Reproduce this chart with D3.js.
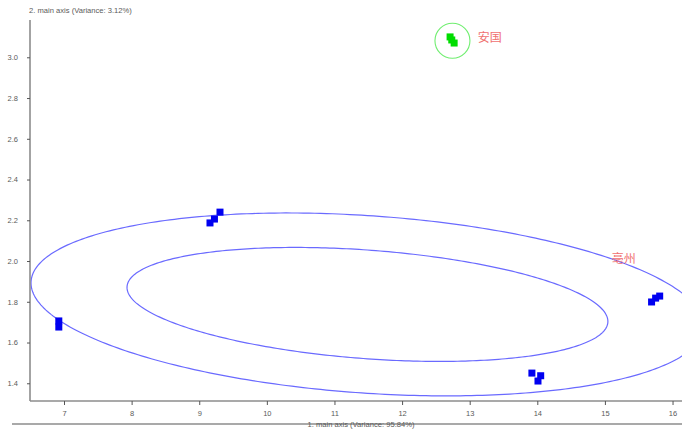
<!DOCTYPE html>
<html><head><meta charset="utf-8">
<script src="https://cdn.jsdelivr.net/npm/d3@7"></script>
<style>
html,body{margin:0;padding:0;background:#fff;}
svg{display:block;font-family:"Liberation Sans",Arial,sans-serif;}
</style></head>
<body><svg id="c" width="682" height="429"></svg>
<script>
// ---- data ----
const xTicks = [7, 8, 9, 10, 11, 12, 13, 14, 15, 16];
const yTicks = [1.4, 1.6, 1.8, 2.0, 2.2, 2.4, 2.6, 2.8, 3.0];
const yTickLabels = ["1.4", "1.6", "1.8", "2.0", "2.2", "2.4", "2.6", "2.8", "3.0"];
const xTitle = "1. main axis (Variance: 95.84%)";
const yTitle = "2. main axis (Variance: 3.12%)";
// blue samples (亳州 group)
const blueX = [6.923, 6.923, 9.159, 9.225, 9.307, 13.92, 14.05, 14.01, 15.69, 15.75, 15.81];
const blueY = [1.706, 1.676, 2.187, 2.206, 2.240, 1.450, 1.437, 1.411, 1.799, 1.818, 1.828];
// green samples (安国 group)
const greenX = [12.71, 12.735, 12.77];
const greenY = [3.10, 3.085, 3.07];
const greenCenter = [12.745, 3.081];
// group labels
const labelText = ["安国", "亳州"];
const labelX = [13.12, 15.10];
const labelY = [3.075, 1.99];
// confidence ellipses: center + cos(t)*A + sin(t)*B (data units)
const ellCenter = [11.488, 1.787];
const ellA = [[3.556, -0.0834], [4.976, -0.1055]];
const ellB = [[0, -0.267], [0, -0.4363]];

// ---- chart ----
const svg = d3.select("#c");
const x = d3.scaleLinear().domain([6.497, 16.14]).range([30, 682]);
const y = d3.scaleLinear().domain([1.313, 3.183]).range([401, 20]);

const axisCol = "#8c8c8c";
const textCol = "#5a5a5a";

// ellipses
ellA.forEach((A, i) => {
  const B = ellB[i];
  const pts = d3.range(0, 361).map(d => {
    const t = d * Math.PI / 180;
    return [x(ellCenter[0] + Math.cos(t) * A[0] + Math.sin(t) * B[0]),
            y(ellCenter[1] + Math.cos(t) * A[1] + Math.sin(t) * B[1])];
  });
  svg.append("path").attr("d", d3.line()(pts)).attr("fill", "none")
    .attr("stroke", "#6a6aff").attr("stroke-width", 1.2);
});

// green circle
svg.append("circle").attr("cx", x(greenCenter[0])).attr("cy", y(greenCenter[1]))
  .attr("r", 17.5).attr("fill", "none").attr("stroke", "#70ee70").attr("stroke-width", 1.1);

// axes
const xAxis = d3.axisBottom(x).tickValues(xTicks).tickSize(4).tickPadding(6).tickFormat(d3.format("d"));
const gx = svg.append("g").attr("transform", "translate(0,401)").call(xAxis);
const yAxis = d3.axisLeft(y).tickValues(yTicks).tickSize(3).tickPadding(9).tickFormat((d, i) => yTickLabels[i]);
const gy = svg.append("g").attr("transform", "translate(30,0)").call(yAxis);
[gx, gy].forEach(g => {
  g.select(".domain").attr("stroke", axisCol).attr("stroke-width", 1.6);
  g.selectAll(".tick line").attr("stroke", "#555");
  g.selectAll(".tick text").attr("fill", textCol).attr("font-size", 7.5)
    .attr("font-family", "Liberation Sans, Arial, sans-serif");
});
gx.select(".domain").attr("d", "M30,0H682");
gy.select(".domain").attr("d", "M0,20V401");

// titles
svg.append("text").attr("x", 29).attr("y", 13).attr("font-size", 7.6).attr("fill", textCol).text(yTitle);
svg.append("line").attr("x1", 12).attr("x2", 682).attr("y1", 424).attr("y2", 424)
  .attr("stroke", axisCol).attr("stroke-width", 1.6);
svg.append("text").attr("x", 361).attr("y", 426.5).attr("text-anchor", "middle")
  .attr("font-size", 7.6).attr("fill", textCol).text(xTitle);

// points
const sq = 7;
svg.append("g").selectAll("rect").data(blueX).join("rect")
  .attr("x", (d, i) => x(d) - sq / 2).attr("y", (d, i) => y(blueY[i]) - sq / 2)
  .attr("width", sq).attr("height", sq).attr("fill", "#0000f0");
svg.append("g").selectAll("rect").data(greenX).join("rect")
  .attr("x", (d, i) => x(d) - sq / 2).attr("y", (d, i) => y(greenY[i]) - sq / 2)
  .attr("width", sq).attr("height", sq).attr("fill", "#00dd00");

// labels
svg.append("g").selectAll("text").data(labelText).join("text")
  .attr("x", (d, i) => x(labelX[i])).attr("y", (d, i) => y(labelY[i]))
  .attr("font-size", 12).attr("fill", "#f07070")
  .attr("font-family", "Noto Sans CJK SC, sans-serif").text(d => d);
</script></body></html>
